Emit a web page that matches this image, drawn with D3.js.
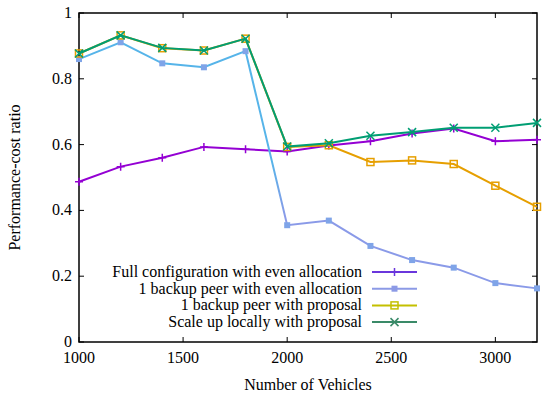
<!DOCTYPE html>
<html>
<head>
<meta charset="utf-8">
<script src="https://cdn.jsdelivr.net/npm/d3@7"></script>
<style>
  body { margin: 0; background: #fff; }
</style>
</head>
<body>
<svg id="chart" width="550" height="399"></svg>
<script>
const vehicles = [1000, 1200, 1400, 1600, 1800, 2000, 2200, 2400, 2600, 2800, 3000, 3200];
const fullEven = [0.487, 0.533, 0.560, 0.593, 0.586, 0.579, 0.597, 0.610, 0.634, 0.649, 0.610, 0.615];
const backupEven = [0.860, 0.911, 0.847, 0.835, 0.884, 0.355, 0.369, 0.292, 0.249, 0.226, 0.179, 0.163];
const backupProposal = [0.877, 0.932, 0.893, 0.886, 0.922, 0.593, 0.598, 0.547, 0.552, 0.541, 0.475, 0.411];
const scaleUpProposal = [0.877, 0.932, 0.894, 0.886, 0.922, 0.594, 0.604, 0.627, 0.638, 0.651, 0.651, 0.666];
const seriesNames = [
  "Full configuration with even allocation",
  "1 backup peer with even allocation",
  "1 backup peer with proposal",
  "Scale up locally with proposal"
];
const xTicks = [1000, 1500, 2000, 2500, 3000];
const yTicks = [0, 0.2, 0.4, 0.6, 0.8, 1];

const svg = d3.select("#chart")
  .attr("font-family", "'Liberation Serif', 'Times New Roman', Times, Tinos, 'DejaVu Serif', serif");
const margin = { top: 13, right: 13, bottom: 57, left: 79 };
const width = 550, height = 399;
const innerW = width - margin.left - margin.right;
const innerH = height - margin.top - margin.bottom;

const x = d3.scaleLinear().domain([1000, 3200]).range([0, innerW]);
const y = d3.scaleLinear().domain([0, 1]).range([innerH, 0]);

const g = svg.append("g").attr("transform", `translate(${margin.left},${margin.top})`);

// blue line fades from sky blue to periwinkle on its way down
const defs = svg.append("defs");
const grad = defs.append("linearGradient")
  .attr("id", "blueGrad")
  .attr("gradientUnits", "userSpaceOnUse")
  .attr("x1", 0).attr("x2", 0)
  .attr("y1", y(0.55)).attr("y2", y(0.38));
grad.append("stop").attr("offset", 0).attr("stop-color", "#56b4e9");
grad.append("stop").attr("offset", 1).attr("stop-color", "#8a9ae8");

const series = [
  { name: seriesNames[0], values: fullEven, color: "#9400d3", legendColor: "#6a36dc", marker: "plus" },
  { name: seriesNames[1], values: backupEven, color: "url(#blueGrad)", markColor: "#7fa4e8", legendColor: "#8c9ae6", marker: "fsquare" },
  { name: seriesNames[2], values: backupProposal, color: "#e69f00", legendColor: "#c4c000", marker: "osquare" },
  { name: seriesNames[3], values: scaleUpProposal, color: "#009e73", legendColor: "#3a8a68", marker: "cross" }
];

// frame
g.append("rect").attr("width", innerW).attr("height", innerH)
  .attr("fill", "none").attr("stroke", "#000").attr("stroke-width", 1.5);

// ticks (inward, mirrored)
const tickLen = 5;
xTicks.forEach(t => {
  g.append("line").attr("x1", x(t)).attr("x2", x(t)).attr("y1", innerH).attr("y2", innerH - tickLen).attr("stroke", "#000");
  g.append("line").attr("x1", x(t)).attr("x2", x(t)).attr("y1", 0).attr("y2", tickLen).attr("stroke", "#000");
  g.append("text").attr("x", x(t)).attr("y", innerH + 21).attr("text-anchor", "middle")
    .attr("font-size", 16).text(t);
});
yTicks.forEach(t => {
  g.append("line").attr("x1", 0).attr("x2", tickLen).attr("y1", y(t)).attr("y2", y(t)).attr("stroke", "#000");
  g.append("line").attr("x1", innerW).attr("x2", innerW - tickLen).attr("y1", y(t)).attr("y2", y(t)).attr("stroke", "#000");
  g.append("text").attr("x", -7).attr("y", y(t) + 5).attr("text-anchor", "end")
    .attr("font-size", 16).text(t);
});

// axis titles
svg.append("text").attr("x", margin.left + innerW / 2).attr("y", 390)
  .attr("text-anchor", "middle").attr("font-size", 16).text("Number of Vehicles");
svg.append("text").attr("transform", `translate(20,${margin.top + innerH / 2}) rotate(-90)`)
  .attr("text-anchor", "middle").attr("font-size", 16).text("Performance-cost ratio");

function drawMarker(sel, type, color) {
  const s = 4;
  if (type === "plus") {
    sel.append("path").attr("d", `M${-s},0H${s}M0,${-s}V${s}`).attr("stroke", color).attr("stroke-width", 1.5);
  } else if (type === "fsquare") {
    sel.append("rect").attr("x", -3).attr("y", -3).attr("width", 6).attr("height", 6).attr("fill", color);
  } else if (type === "osquare") {
    sel.append("rect").attr("x", -3.5).attr("y", -3.5).attr("width", 7).attr("height", 7)
      .attr("fill", "none").attr("stroke", color).attr("stroke-width", 1.5);
  } else {
    sel.append("path").attr("d", `M${-s},${-s}L${s},${s}M${-s},${s}L${s},${-s}`).attr("stroke", color).attr("stroke-width", 1.5);
  }
}

const line = d3.line().x((d, i) => x(vehicles[i])).y(d => y(d));

series.forEach(s => {
  g.append("path").datum(s.values).attr("d", line)
    .attr("fill", "none").attr("stroke", s.color).attr("stroke-width", 2);
  s.values.forEach((v, i) => {
    const m = g.append("g").attr("transform", `translate(${x(vehicles[i])},${y(v)})`);
    drawMarker(m, s.marker, s.markColor || s.color);
  });
});

// legend
const legend = svg.append("g");
series.forEach((s, i) => {
  const ly = 272 + i * 16.7;
  legend.append("text").attr("x", 362).attr("y", ly + 5).attr("text-anchor", "end")
    .attr("font-size", 16).text(s.name);
  legend.append("line").attr("x1", 372).attr("x2", 417).attr("y1", ly).attr("y2", ly)
    .attr("stroke", s.legendColor).attr("stroke-width", 2);
  drawMarker(legend.append("g").attr("transform", `translate(394.5,${ly})`), s.marker, s.legendColor);
});
</script>
</body>
</html>
